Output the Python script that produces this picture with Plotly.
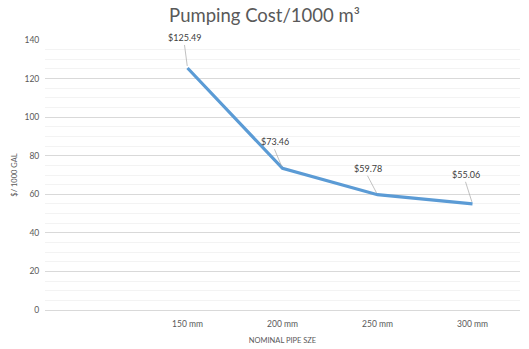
import plotly.graph_objects as go

categories = ["", "150 mm", "200 mm", "250 mm", "300 mm"]
x_vals = ["150 mm", "200 mm", "250 mm", "300 mm"]
costs = [125.49, 73.46, 59.78, 55.06]
labels = ["$125.49", "$73.46", "$59.78", "$55.06"]
label_offsets = [(-3, -23), (-8, -19), (-10, -19), (-7, -22)]

font_family = "Lato, 'Open Sans', sans-serif"
gray = "#595959"

fig = go.Figure()
fig.add_trace(go.Scatter(
    x=x_vals, y=costs, mode="lines",
    line=dict(color="#5B9BD5", width=3.2),
    hoverinfo="skip", showlegend=False,
))

for xv, yv, lab, (ax, ay) in zip(x_vals, costs, labels, label_offsets):
    fig.add_annotation(
        x=xv, y=yv, text=lab, showarrow=True, arrowhead=0, arrowwidth=0.7,
        arrowcolor="#a6a6a6", ax=ax, ay=ay, standoff=2,
        font=dict(family=font_family, size=9, color="#404040"),
        yanchor="bottom",
    )

fig.update_layout(
    width=529, height=349,
    margin=dict(l=45, r=9, t=40, b=39),
    paper_bgcolor="white", plot_bgcolor="white",
    title=dict(text="Pumping Cost/1000 m³", x=0.5, xanchor="center",
               y=0.955, yanchor="middle",
               font=dict(family=font_family, size=18.5, color=gray)),
    font=dict(family=font_family, color=gray),
    xaxis=dict(
        type="category", categoryorder="array", categoryarray=categories,
        tickvals=x_vals, ticktext=x_vals, automargin=False,
        range=[-0.5, 4.5], showgrid=False, zeroline=False,
        showline=True, linecolor="#d9d9d9", linewidth=1,
        tickfont=dict(size=8.5, color=gray),
        ticks="outside", ticklen=6, tickcolor="rgba(0,0,0,0)",
        title=dict(text="NOMINAL PIPE SZE", font=dict(size=7.5, color=gray), standoff=9),
    ),
    yaxis=dict(
        range=[0, 140], dtick=20, tick0=0, automargin=False,
        showgrid=True, gridcolor="#d9d9d9", gridwidth=1,
        zeroline=False, showline=False,
        tickfont=dict(size=8.5, color=gray),
        ticks="outside", ticklen=3, tickcolor="rgba(0,0,0,0)",
        minor=dict(dtick=5, showgrid=True, gridcolor="#f3f3f3", gridwidth=1),
        title=dict(text="$/ 1000 GAL", font=dict(size=7.5, color=gray), standoff=5),
    ),
)

fig.write_html("out.html")
